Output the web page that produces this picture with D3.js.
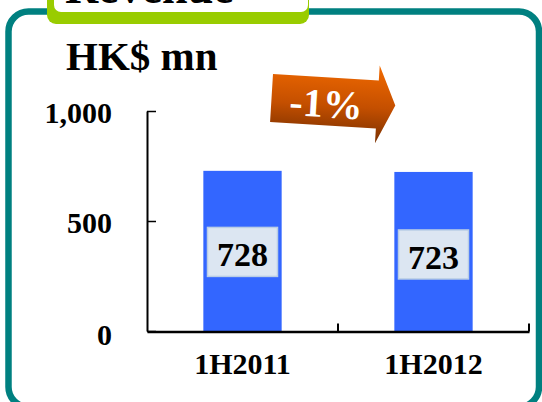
<!DOCTYPE html>
<html>
<head>
<meta charset="utf-8">
<script src="https://cdn.jsdelivr.net/npm/d3@7"></script>
<style>
  html, body { margin: 0; padding: 0; background: #fff; }
  svg { display: block; font-family: "Liberation Serif", "Times New Roman", serif; font-weight: bold; }
</style>
</head>
<body>
<div id="chart"></div>
<script>
// chart data
const categories = ["1H2011", "1H2012"];
const revenue = [728, 723];
const yTicks = [0, 500, 1000];
const title = "Revenue";
const unitLabel = "HK$ mn";
const changeLabel = "-1%";

const width = 542, height = 402;

const svg = d3.select("#chart")
    .append("svg")
    .attr("width", width)
    .attr("height", height);

const defs = svg.append("defs");
const grad = defs.append("linearGradient")
    .attr("id", "arrowGrad")
    .attr("x1", 0).attr("y1", 0).attr("x2", 0).attr("y2", 1);
grad.append("stop").attr("offset", "0%").attr("stop-color", "#f26a00");
grad.append("stop").attr("offset", "55%").attr("stop-color", "#c44f00");
grad.append("stop").attr("offset", "100%").attr("stop-color", "#7a3000");

// outer teal frame (bottom edge runs just off the picture)
svg.append("rect")
    .attr("x", 8.5).attr("y", 11.5)
    .attr("width", 530.5).attr("height", 395.5)
    .attr("rx", 20)
    .style("fill", "none")
    .style("stroke", "#008080")
    .style("stroke-width", 6.5);

// green title tab (clipped at the top)
svg.append("rect")
    .attr("x", 47).attr("y", -30)
    .attr("width", 262).attr("height", 54)
    .attr("rx", 9)
    .style("fill", "#99cc00");
svg.append("rect")
    .attr("x", 54).attr("y", -30)
    .attr("width", 254).attr("height", 42)
    .attr("rx", 7)
    .style("fill", "#fff");
svg.append("text")
    .attr("x", 65).attr("y", 3)
    .style("font-size", "46px")
    .style("fill", "#000")
    .text(title);

// unit label
svg.append("text")
    .attr("x", 66).attr("y", 70)
    .style("font-size", "41px")
    .style("fill", "#000")
    .text(unitLabel);

// scales
const x = d3.scaleBand()
    .domain(categories)
    .range([147, 529])
    .paddingInner(0.59)
    .paddingOuter(0.295);

const y = d3.scaleLinear()
    .domain([0, 1000])
    .range([331, 111]);

// bars
svg.selectAll(".bar")
    .data(revenue)
    .enter()
    .append("rect")
    .attr("class", "bar")
    .attr("x", (d, i) => x(categories[i]))
    .attr("y", d => y(d))
    .attr("width", x.bandwidth())
    .attr("height", d => y(0) - y(d))
    .style("fill", "#3366ff");

// value boxes
const boxW = 70, boxH = 49;
const labels = svg.selectAll(".val")
    .data(revenue)
    .enter()
    .append("g")
    .attr("class", "val")
    .attr("transform", (d, i) => {
        const cx = x(categories[i]) + x.bandwidth() / 2;
        const cy = (y(d) + y(0)) / 2 + 1 + i * 2;
        return `translate(${cx},${cy})`;
    });
labels.append("rect")
    .attr("x", -boxW / 2).attr("y", -boxH / 2)
    .attr("width", boxW).attr("height", boxH)
    .style("fill", "#dce6f2")
    .style("stroke", "#b9cde5")
    .style("stroke-width", 1.5);
labels.append("text")
    .attr("text-anchor", "middle")
    .attr("y", 14.5)
    .style("font-size", "34px")
    .style("fill", "#000")
    .text(d => d);

// y axis
const yAxis = svg.append("g")
    .attr("transform", "translate(147,0)")
    .call(d3.axisLeft(y)
        .tickValues(yTicks)
        .tickFormat(d3.format(","))
        .tickSizeInner(-9)
        .tickSizeOuter(0)
        .tickPadding(35));
yAxis.select(".domain").style("stroke", "#000").style("stroke-width", 2);
yAxis.selectAll(".tick line").style("stroke", "#000").style("stroke-width", 1.5);
yAxis.selectAll(".tick text")
    .attr("dy", d => d === 0 ? "0.45em" : "0.37em")
    .style("font-family", "'Liberation Serif', 'Times New Roman', serif")
    .style("font-weight", "bold")
    .style("font-size", "30px")
    .style("fill", "#000");

// x axis
const xAxis = svg.append("g")
    .attr("transform", "translate(0,331.5)")
    .call(d3.axisBottom(x)
        .tickSize(0)
        .tickPadding(21));
xAxis.select(".domain").style("stroke", "#000").style("stroke-width", 2.5);
xAxis.selectAll(".tick text")
    .style("font-family", "'Liberation Serif', 'Times New Roman', serif")
    .style("font-weight", "bold")
    .style("font-size", "30px")
    .style("fill", "#000");

// category boundary ticks (pointing up)
const boundaries = categories.map((c, i) => x.range()[0] + (i + 1) * x.step());
xAxis.selectAll(".bound")
    .data(boundaries)
    .enter()
    .append("line")
    .attr("class", "bound")
    .attr("x1", d => d).attr("x2", d => d)
    .attr("y1", 0).attr("y2", -8)
    .style("stroke", "#000")
    .style("stroke-width", 2);

// change arrow
const arrow = svg.append("g")
    .attr("transform", "translate(273,74) rotate(3.5)");
arrow.append("path")
    .attr("d", "M0,0 L106,0 L106,-15 L124,24 L106,63 L106,48 L0,48 Z")
    .style("fill", "url(#arrowGrad)");
arrow.append("text")
    .attr("x", 55).attr("y", 40)
    .attr("text-anchor", "middle")
    .style("font-size", "40px")
    .style("fill", "#fff")
    .text(changeLabel);
</script>
</body>
</html>
